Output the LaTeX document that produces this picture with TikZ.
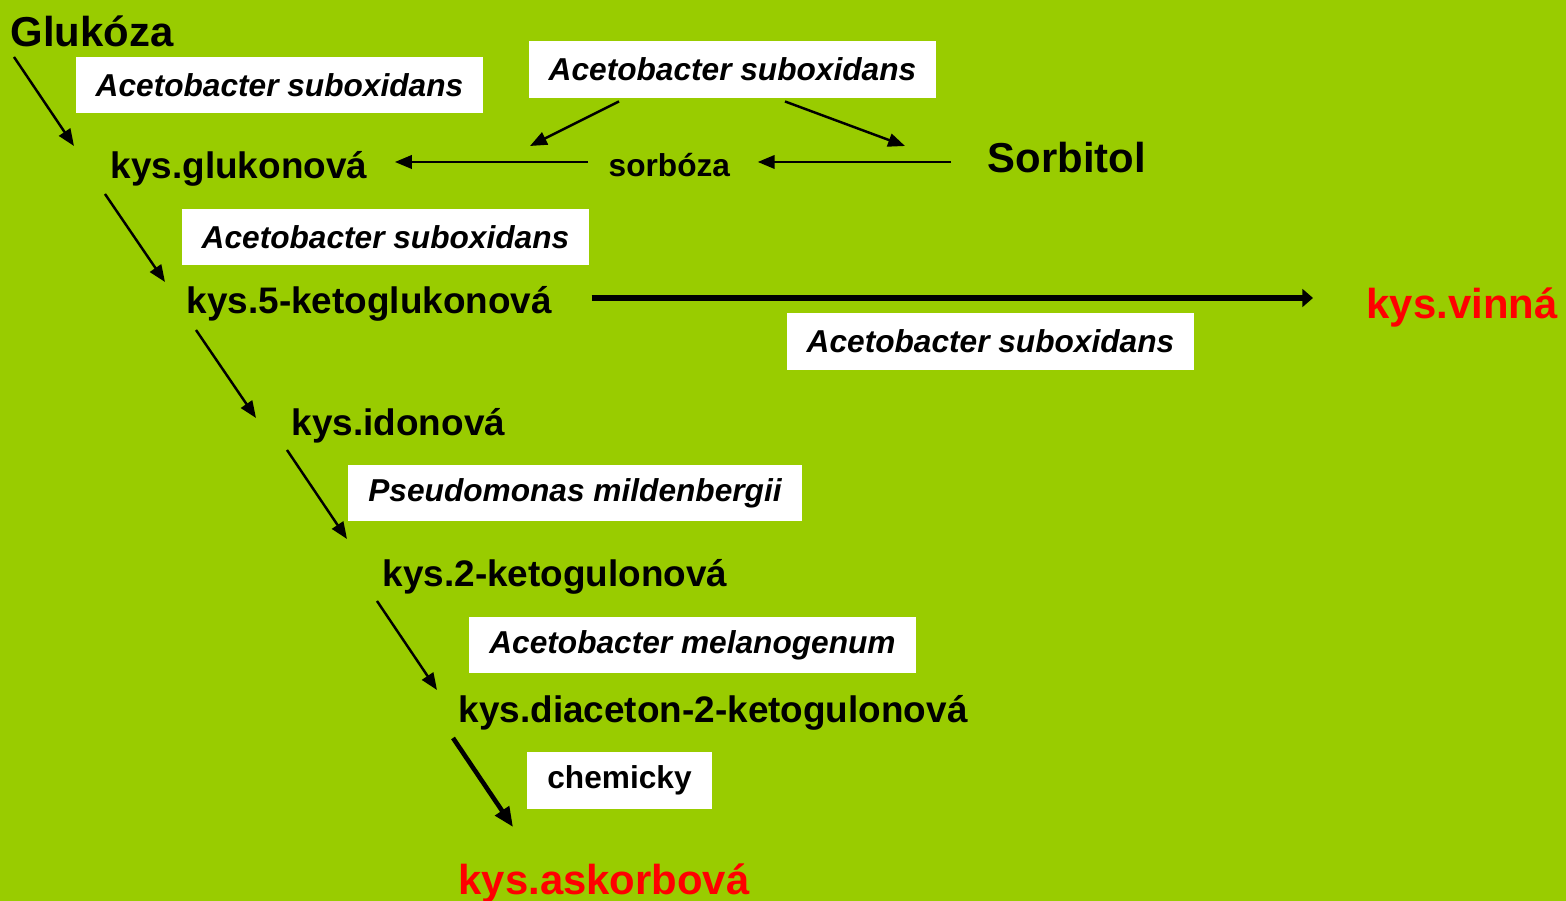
\documentclass[tikz,border=0pt]{standalone}
\usepackage{fontspec}
\setmainfont{Liberation Sans}
\usetikzlibrary{arrows.meta}
\definecolor{bggreen}{HTML}{99CC00}
\definecolor{redtxt}{HTML}{FF0000}
\tikzset{
  acid/.style={anchor=west,inner sep=0pt,font=\fontsize{10.5}{12}\selectfont\bfseries},
  bigacid/.style={anchor=west,inner sep=0pt,font=\fontsize{11.9}{14}\selectfont\bfseries},
  microbe/.style={fill=white,inner xsep=0.2cm,minimum height=0.565cm,font=\fontsize{9}{11}\selectfont\bfseries\itshape},
  chembox/.style={microbe,font=\fontsize{9}{11}\selectfont\bfseries},
  arr/.style={line width=0.7pt,-{Triangle[length=4.8pt,width=3.8pt]}},
  thickarr/.style={line width=1.7pt,-{Triangle[length=3pt,width=5pt]}},
  chemarr/.style={line width=1.3pt,-{Triangle[length=5.6pt,width=4.6pt]}}
}
\begin{document}
\begin{tikzpicture}[x=0.01cm,y=-0.01cm]
    \fill[bggreen] (0,0) rectangle (1566,901);
    \useasboundingbox (0,0) rectangle (1566,901);

    % substances
    \node[bigacid] (glu) at (10,31) {Glukóza};
    \node[acid] (gluk) at (110,169) {kys.glukonová};
    \node[acid,font=\fontsize{9}{11}\selectfont\bfseries] (sorb) at (608,165) {sorbóza};
    \node[bigacid] (sorbit) at (987,158) {Sorbitol};
    \node[acid] (keto5) at (186,304) {kys.5-ketoglukonová};
    \node[bigacid,text=redtxt] (vinna) at (1366,308) {kys.vinná};
    \node[acid] (idon) at (291,426) {kys.idonová};
    \node[acid] (keto2) at (382,577) {kys.2-ketogulonová};
    \node[acid] (diac) at (458,713) {kys.diaceton-2-ketogulonová};
    \node[bigacid,text=redtxt] (asko) at (458,884) {kys.askorbová};

    % organisms
    \node[microbe] (m1) at (279.5,85) {Acetobacter suboxidans};
    \node[microbe] (m2) at (732.5,69.5) {Acetobacter suboxidans};
    \node[microbe] (m3) at (385.5,237) {Acetobacter suboxidans};
    \node[microbe] (m4) at (990.5,341.5) {Acetobacter suboxidans};
    \node[microbe] (m5) at (575,493) {Pseudomonas mildenbergii};
    \node[microbe] (m6) at (692.5,645) {Acetobacter melanogenum};
    \node[chembox] (m7) at (619.5,780.5) {chemicky};

    \path[arr]
    ([shift={(4,26)}]glu.west) edge ([shift={(-36,-23)}]gluk.west)
    ([shift={(-5,25)}]gluk.west) edge ([shift={(-21,-22)}]keto5.west)
    ([shift={(10,26)}]keto5.west) edge ([shift={(-35,-8)}]idon.west)
    ([shift={(-4,24)}]idon.west) edge ([shift={(-35,-38)}]keto2.west)
    ([shift={(-5,24)}]keto2.west) edge ([shift={(-21,-23)}]diac.west)
    ([shift={(-36,4)}]sorbit.west) edge ([shift={(27,-3)}]sorb.east)
    ([shift={(-20,-3)}]sorb.west) edge ([shift={(27,-7)}]gluk.east)
    ([shift={(-113.5,3)}]m2.south) edge ([shift={(-78,-19)}]sorb.west)
    ([shift={(52.5,3)}]m2.south) edge ([shift={(-82,-12)}]sorbit.west);
    \path[thickarr]
    ([shift={(39,-6)}]keto5.east) edge ([shift={(-53,-10)}]vinna.west);
    \path[chemarr]
    ([shift={(-5,25)}]diac.west) edge ([shift={(55,-57)}]asko.west);
\end{tikzpicture}
\end{document}
